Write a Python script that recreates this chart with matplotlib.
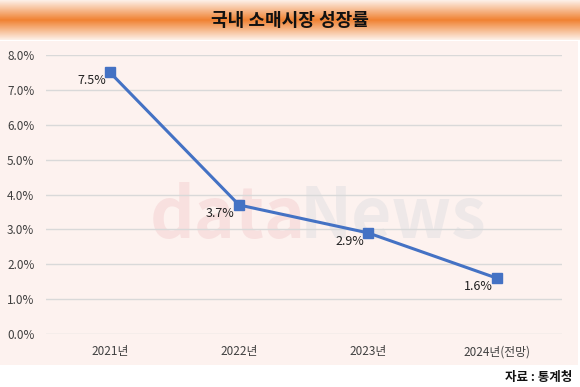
import numpy as np
import matplotlib.pyplot as plt
from matplotlib.patches import Rectangle
from matplotlib.colors import LinearSegmentedColormap

plt.rcParams['font.family'] = ['Noto Sans CJK KR', 'DejaVu Sans']

# data
years = ["2021년", "2022년", "2023년", "2024년(전망)"]
growth = [7.5, 3.7, 2.9, 1.6]
yticks = [0, 1, 2, 3, 4, 5, 6, 7, 8]

W, H = 580, 387
fig = plt.figure(figsize=(W / 100, H / 100), dpi=100)
fig.patch.set_facecolor("white")

# pink panel behind chart
fig.patches.append(Rectangle((0, (H - 365) / H), 578 / W, (365 - 41) / H,
                             transform=fig.transFigure, facecolor="#fdf2ef",
                             edgecolor="none", zorder=-2))

# orange title banner with vertical gradient
ban = fig.add_axes([0, (H - 40) / H, 1, 40 / H])
cmap = LinearSegmentedColormap.from_list("ban", ["#fdf0e8", "#f08232", "#fdf0e8"])
grad = np.linspace(0, 1, 100).reshape(-1, 1)
ban.imshow(grad, aspect="auto", cmap=cmap, extent=[0, 1, 0, 1])
ban.set_axis_off()
ban.text(0.5, 0.5, "국내 소매시장 성장률", ha="center", va="center",
         fontsize=13, fontweight="bold", color="#111111")

# watermark
fig.text(150 / W, (H - 238) / H, "data", fontsize=50, color="#f8e0df",
         fontweight="bold", zorder=-1)
fig.text(300 / W, (H - 238) / H, "News", fontsize=50, color="#eee8e8",
         fontweight="bold", zorder=-1)

ax = fig.add_axes([45.5 / W, (H - 334) / H, (561.5 - 45.5) / W, (334 - 55) / H])
ax.set_facecolor("none")
x = np.arange(len(years)) + 0.5
ax.plot(x, growth, color="#4472c4", lw=2.2, marker="s", ms=6.5,
        markerfacecolor="#4472c4", markeredgecolor="#4472c4", zorder=3)
for xi, v in zip(x, growth):
    ax.annotate(f"{v:.1f}%", (xi, v), xytext=(-3, -6), textcoords="offset points",
                ha="right", va="center", fontsize=9, color="#222222")

ax.set_xlim(0, len(years))
ax.set_ylim(0, 8)
ax.set_yticks(yticks)
ax.set_yticklabels([f"{t:.1f}%" for t in yticks])
ax.set_xticks(x)
ax.set_xticklabels(years)
ax.tick_params(length=0, labelsize=8.5, labelcolor="#404040")
ax.tick_params(axis="x", pad=8)
ax.tick_params(axis="y", pad=8)
ax.grid(axis="y", color="#d9d9d9", lw=1)
ax.set_axisbelow(True)
for s in ax.spines.values():
    s.set_visible(False)

fig.text(572 / W, (H - 377) / H, "자료 : 통계청", ha="right", va="center",
         fontsize=9, fontweight="bold", color="#111111")

fig.savefig("out.png", dpi=100)
